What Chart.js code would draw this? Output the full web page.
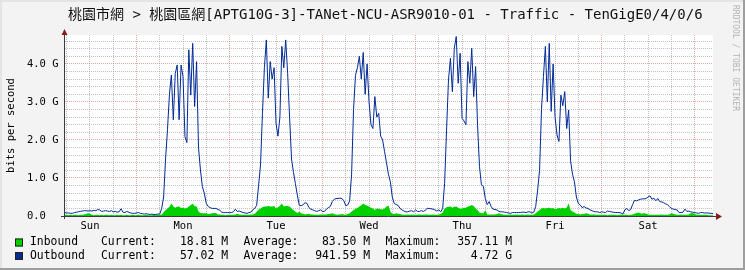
<!DOCTYPE html>
<html>
<head>
<meta charset="utf-8">
<script src="https://cdn.jsdelivr.net/npm/chart.js@4/dist/chart.umd.min.js"></script>
<style>
  html, body { margin: 0; padding: 0; background: #F3F3F3; }
  #wrap { width: 745px; height: 270px; }
</style>
</head>
<body>
<div id="wrap"><canvas id="graph" width="745" height="270"></canvas></div>
<script>
const title = '桃園市網 > 桃園區網[APTG10G-3]-TANet-NCU-ASR9010-01 - Traffic - TenGigE0/4/0/6';
const yTitle = 'bits per second';
const dayLabels = ['Sun', 'Mon', 'Tue', 'Wed', 'Thu', 'Fri', 'Sat'];
const yTickLabels = ['0.0  ', '1.0 G', '2.0 G', '3.0 G', '4.0 G'];
const seriesNames = ['Inbound', 'Outbound'];
const statNames = ['Current:', 'Average:', 'Maximum:'];
const statValues = [
  ['18.81 M', '83.50 M', '357.11 M'],
  ['57.02 M', '941.59 M', '4.72 G']
];
const watermark = 'RRDTOOL / TOBI OETIKER';

// one sample every 30 min, first at Sun 05:30 (hours counted from Sun 00:00), Gbit/s
const firstHour = 5.5;
const stepHours = 0.5;

const outbound = [
  // Sun
  0.09,0.08,0.08,0.07,0.07,0.09,0.10,0.11,0.12,0.13,0.14,0.14,0.13,
  0.14,0.13,0.15,0.14,0.17,0.16,0.12,0.13,0.14,0.13,0.12,0.14,
  0.11,0.12,0.10,0.11,0.19,0.10,0.09,0.12,0.10,0.08,0.07,0.07,
  // Mon
  0.08,0.09,0.07,0.06,0.05,0.06,0.05,0.04,0.05,0.04,0.04,0.05,
  0.05,0.20,0.50,1.50,2.28,3.20,3.71,2.53,3.75,3.97,2.53,3.97,
  3.67,2.09,1.93,4.37,3.18,4.54,2.88,4.06,1.80,1.21,0.77,0.60,
  0.33,0.25,0.22,0.20,0.20,0.20,0.17,0.15,0.10,0.09,0.09,0.09,
  // Tue
  0.09,0.09,0.11,0.18,0.12,0.13,0.11,0.09,0.08,0.07,0.09,0.10,
  0.16,0.20,0.28,0.80,1.34,2.70,3.90,4.63,3.10,4.06,3.60,3.90,
  2.44,2.10,2.60,4.46,3.90,4.63,3.75,2.60,1.50,1.15,0.85,0.55,
  0.28,0.27,0.30,0.35,0.33,0.22,0.18,0.16,0.14,0.12,0.14,0.16,
  // Wed
  0.12,0.12,0.18,0.22,0.25,0.38,0.44,0.46,0.46,0.47,0.46,0.40,
  0.27,0.29,0.40,1.10,2.80,3.70,3.90,4.20,3.60,4.30,3.20,4.00,
  3.00,2.40,2.30,3.14,2.60,2.70,2.10,2.00,1.70,1.40,1.10,0.90,
  0.50,0.33,0.30,0.28,0.20,0.16,0.13,0.11,0.11,0.13,0.14,0.11,
  // Thu
  0.16,0.12,0.12,0.14,0.12,0.15,0.20,0.20,0.19,0.18,0.16,0.13,
  0.16,0.11,0.20,0.86,2.26,3.58,4.15,3.27,4.41,4.72,3.49,4.28,
  2.57,2.50,2.40,4.06,3.49,4.41,3.14,3.93,2.39,1.30,0.82,0.78,
  0.46,0.30,0.38,0.25,0.18,0.17,0.16,0.12,0.11,0.11,0.10,0.09,
  // Fri
  0.08,0.07,0.09,0.09,0.09,0.09,0.09,0.10,0.10,0.09,0.11,0.11,
  0.08,0.10,0.25,0.68,1.20,2.80,3.67,4.46,3.00,4.54,2.75,4.00,
  2.60,2.13,1.96,3.18,2.90,3.27,2.30,2.79,1.45,1.10,0.90,0.50,
  0.33,0.29,0.22,0.25,0.21,0.20,0.16,0.14,0.12,0.11,0.11,0.09,
  // Sat (+ early Sun)
  0.11,0.10,0.09,0.13,0.12,0.11,0.10,0.09,0.09,0.09,0.08,0.05,
  0.16,0.20,0.14,0.17,0.30,0.41,0.40,0.42,0.44,0.45,0.45,0.46,
  0.50,0.53,0.44,0.47,0.40,0.46,0.38,0.37,0.35,0.32,0.30,0.25,
  0.20,0.18,0.17,0.16,0.09,0.09,0.10,0.18,0.12,0.13,0.11,0.10,
  0.09,0.08,0.07,0.09,0.09,0.08,0.08,0.08,0.07,0.07,0.06
];

const inbound = [
  // Sun
  0.03,0.03,0.02,0.03,0.02,0.03,0.03,0.02,0.03,0.03,0.04,0.05,
  0.07,0.06,0.03,0.02,0.03,0.03,0.02,0.03,0.02,0.03,0.03,0.02,
  0.03,0.02,0.02,0.03,0.02,0.03,0.02,0.02,0.03,0.02,0.02,0.03,0.02,
  // Mon
  0.02,0.03,0.02,0.02,0.02,0.03,0.02,0.02,0.02,0.03,0.02,0.03,
  0.03,0.04,0.10,0.16,0.20,0.24,0.33,0.25,0.22,0.24,0.25,0.21,
  0.22,0.20,0.21,0.25,0.29,0.32,0.26,0.25,0.12,0.08,0.07,0.07,
  0.07,0.05,0.06,0.07,0.08,0.08,0.04,0.04,0.03,0.03,0.02,0.03,
  // Tue
  0.03,0.03,0.03,0.04,0.06,0.04,0.03,0.03,0.03,0.03,0.03,0.04,
  0.04,0.06,0.11,0.17,0.20,0.23,0.25,0.25,0.26,0.25,0.25,0.26,
  0.20,0.23,0.27,0.33,0.25,0.26,0.26,0.25,0.20,0.16,0.11,0.08,
  0.11,0.07,0.06,0.04,0.05,0.06,0.04,0.04,0.03,0.03,0.03,0.04,
  // Wed
  0.04,0.04,0.04,0.05,0.06,0.07,0.05,0.03,0.04,0.04,0.05,0.04,
  0.03,0.05,0.07,0.12,0.16,0.19,0.21,0.25,0.28,0.33,0.29,0.27,
  0.25,0.22,0.20,0.16,0.20,0.19,0.18,0.17,0.20,0.25,0.27,0.12,
  0.06,0.05,0.07,0.06,0.05,0.04,0.03,0.03,0.04,0.03,0.04,0.03,
  // Thu
  0.03,0.03,0.04,0.03,0.03,0.04,0.04,0.03,0.03,0.04,0.03,0.03,
  0.04,0.05,0.09,0.20,0.23,0.24,0.25,0.22,0.24,0.25,0.22,0.19,
  0.20,0.22,0.22,0.25,0.26,0.29,0.26,0.20,0.16,0.09,0.07,0.07,
  0.15,0.04,0.04,0.04,0.04,0.04,0.05,0.07,0.05,0.04,0.03,0.03,
  // Fri
  0.03,0.04,0.03,0.03,0.04,0.03,0.03,0.04,0.03,0.03,0.04,0.03,
  0.03,0.04,0.07,0.12,0.16,0.20,0.21,0.20,0.21,0.22,0.20,0.21,
  0.18,0.19,0.21,0.20,0.22,0.20,0.22,0.33,0.16,0.12,0.09,0.06,
  0.05,0.04,0.05,0.06,0.07,0.06,0.04,0.04,0.04,0.03,0.03,0.03,
  // Sat (+ early Sun)
  0.03,0.03,0.03,0.02,0.03,0.03,0.03,0.03,0.02,0.03,0.03,0.03,0.03,0.03,0.02,0.03,
  0.04,0.06,0.08,0.09,0.07,0.06,0.08,0.06,0.04,0.03,0.03,0.03,0.03,0.03,0.03,0.04,
  0.03,0.03,0.03,0.04,0.08,0.06,0.04,0.03,0.03,0.04,0.03,0.03,0.03,0.04,0.07,0.08,
  0.05,0.03,0.03,0.03,0.03,0.03,0.03,0.02,0.02,0.02,0.02
];

const COLORS = { inbound: '#00CF00', outbound: '#002A97' };
const MONO = '"DejaVu Sans Mono", "Noto Sans CJK TC", monospace';
const minorGrid = 'rgba(143,143,143,0.55)';
const majorGrid = 'rgba(222,80,80,0.5)';

// grid every 6 hours, labels at noon of each day
const gridHours = [];
for (let h = 6; h <= 168; h += 6) gridHours.push(h);
const gridValues = [];
for (let i = 0; i < 24; i++) gridValues.push(i / 5);

const toPoints = vals => vals.map((v, i) => ({ x: firstHour + i * stepHours, y: v }));

function drawArrow(ctx, tip, a, b) {
  ctx.beginPath();
  ctx.moveTo(tip[0], tip[1]);
  ctx.lineTo(a[0], a[1]);
  ctx.lineTo(b[0], b[1]);
  ctx.closePath();
  ctx.fill();
}

const rrdFrame = {
  id: 'rrdFrame',
  beforeDraw(chart) {
    const { ctx, chartArea: a, width, height } = chart;
    ctx.save();
    ctx.fillStyle = '#F3F3F3';
    ctx.fillRect(0, 0, width, height);
    ctx.fillStyle = '#E4E4E4';
    ctx.fillRect(0, 0, width, 2);
    ctx.fillRect(0, 0, 2, height);
    ctx.fillStyle = '#9E9E9E';
    ctx.fillRect(0, height - 2, width, 2);
    ctx.fillRect(width - 2, 0, 2, height);
    ctx.fillStyle = '#FFFFFF';
    ctx.fillRect(a.left, a.top, a.right - a.left, a.bottom - a.top);
    ctx.restore();
  },
  afterDatasetsDraw(chart) {
    const { ctx, chartArea: a } = chart;
    const x0 = a.left - 0.5, y0 = a.bottom + 0.5;
    ctx.save();
    ctx.strokeStyle = '#3A3A3A';
    ctx.lineWidth = 1;
    ctx.beginPath();
    ctx.moveTo(a.left - 4, y0);
    ctx.lineTo(a.right + 3, y0);
    ctx.moveTo(x0, a.bottom + 3);
    ctx.lineTo(x0, a.top - 2);
    ctx.stroke();
    ctx.fillStyle = '#8B1A1A';
    drawArrow(ctx, [x0, a.top - 6], [x0 - 3, a.top], [x0 + 3, a.top]);
    drawArrow(ctx, [a.right + 9, y0], [a.right + 3, y0 - 3.5], [a.right + 3, y0 + 3.5]);
    ctx.restore();
  },
  afterDraw(chart) {
    const { ctx } = chart;
    ctx.save();
    ctx.fillStyle = '#111';
    ctx.textBaseline = 'middle';
    ctx.textAlign = 'left';
    ctx.font = '14px ' + MONO;
    ctx.fillText(title, 68, 15);

    // legend
    ctx.font = '11.4px ' + MONO;
    const rows = [242.5, 256];
    const colors = [COLORS.inbound, COLORS.outbound];
    rows.forEach((y, r) => {
      ctx.fillStyle = colors[r];
      ctx.fillRect(15, y - 4, 8, 8);
      ctx.strokeStyle = '#222';
      ctx.lineWidth = 1;
      ctx.strokeRect(15.5, y - 3.5, 7, 7);
      ctx.fillStyle = '#000';
      ctx.textAlign = 'left';
      ctx.fillText(seriesNames[r], 30, y);
      ctx.fillText(statNames[0], 101, y);
      ctx.fillText(statNames[1], 243.5, y);
      ctx.fillText(statNames[2], 385.5, y);
      ctx.textAlign = 'right';
      ctx.fillText(statValues[r][0], 228, y);
      ctx.fillText(statValues[r][1], 370, y);
      ctx.fillText(statValues[r][2], 512, y);
    });

    // watermark
    ctx.translate(735, 5);
    ctx.rotate(Math.PI / 2);
    ctx.font = '8px ' + MONO;
    ctx.fillStyle = '#B4B4B4';
    ctx.textAlign = 'left';
    ctx.fillText(watermark, 0, 0);
    ctx.restore();
  }
};

const axisFont = { family: MONO, size: 10.5 };
const isMajorY = v => Math.abs(v - Math.round(v)) < 1e-6;

new Chart(document.getElementById('graph'), {
  type: 'line',
  data: {
    datasets: [
      {
        label: seriesNames[1],
        data: toPoints(outbound),
        borderColor: COLORS.outbound,
        borderWidth: 1,
        pointRadius: 0,
        tension: 0,
        fill: false,
        order: 1
      },
      {
        label: seriesNames[0],
        data: toPoints(inbound),
        borderColor: 'rgba(0,0,0,0)',
        borderWidth: 0,
        backgroundColor: COLORS.inbound,
        pointRadius: 0,
        tension: 0,
        fill: 'origin',
        order: 2
      }
    ]
  },
  options: {
    responsive: false,
    animation: false,
    devicePixelRatio: 1,
    events: [],
    layout: { padding: { top: 35, right: 32, left: 0, bottom: 0 } },
    plugins: { legend: { display: false }, tooltip: { enabled: false } },
    scales: {
      x: {
        type: 'linear',
        min: 5.55,
        max: 172.75,
        afterFit: s => { s.height = 54; },
        afterBuildTicks: s => { s.ticks = gridHours.map(v => ({ value: v })); },
        grid: {
          drawTicks: false,
          lineWidth: 1,
          color: c => (c.tick && c.tick.value % 24 === 0 ? majorGrid : minorGrid)
        },
        border: { display: false, dash: [1, 1] },
        ticks: {
          autoSkip: false,
          maxRotation: 0,
          padding: 4,
          color: '#000',
          font: axisFont,
          callback: v => (v % 24 === 12 ? dayLabels[(v - 12) / 24] : '')
        }
      },
      y: {
        type: 'linear',
        min: 0,
        max: 4.76,
        afterFit: s => { s.width = 65; },
        afterBuildTicks: s => { s.ticks = gridValues.map(v => ({ value: v })); },
        grid: {
          drawTicks: false,
          lineWidth: 1,
          color: c => (c.tick && isMajorY(c.tick.value) ? majorGrid : minorGrid)
        },
        border: { display: false, dash: [1, 1] },
        ticks: {
          autoSkip: false,
          padding: 6.5,
          color: '#000',
          font: axisFont,
          callback: v => (isMajorY(v) ? yTickLabels[Math.round(v)] : '')
        },
        title: {
          display: true,
          text: yTitle,
          color: '#000',
          font: axisFont,
          padding: { top: 5, bottom: 0 }
        }
      }
    }
  },
  plugins: [rrdFrame]
});
</script>
</body>
</html>
